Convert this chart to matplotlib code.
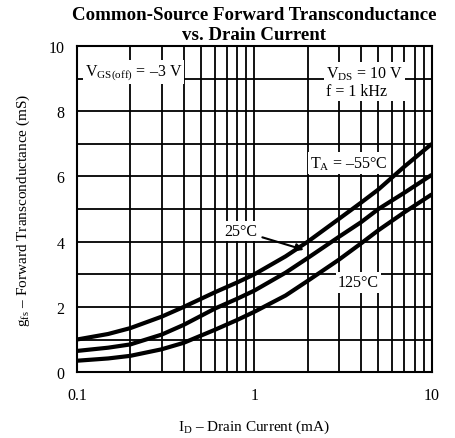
import matplotlib
matplotlib.use('Agg')
import matplotlib.pyplot as plt
import matplotlib.ticker as mticker

plt.rcParams.update({
    'font.family': 'Liberation Serif',
    'font.size': 11,
    'mathtext.fontset': 'custom',
    'mathtext.rm': 'Liberation Serif',
})

# ── Dados ─────────────────────────────────────────────────────────────────────
id_ma = [0.1, 0.15, 0.2, 0.3, 0.4, 0.6, 0.8, 1, 1.5, 2, 3, 4, 5, 7, 10]
gfs_m55 = [1.0, 1.17, 1.35, 1.7, 2.0, 2.45, 2.75, 3.0, 3.55, 4.0, 4.7, 5.2, 5.6, 6.3, 7.0]
gfs_25 = [0.65, 0.75, 0.85, 1.15, 1.45, 1.95, 2.25, 2.5, 3.05, 3.5, 4.15, 4.6, 5.0, 5.5, 6.05]
gfs_125 = [0.35, 0.42, 0.5, 0.7, 0.9, 1.3, 1.6, 1.85, 2.35, 2.8, 3.45, 3.95, 4.35, 4.9, 5.45]

fig = plt.figure(figsize=(4.55, 4.39), dpi=100)
ax = fig.add_axes([0.169, 0.150, 0.780, 0.743])

for vals in (gfs_m55, gfs_25, gfs_125):
    ax.plot(id_ma, vals, color='black', linewidth=3.0, solid_capstyle='butt', zorder=3)

ax.set_xscale('log')
ax.set_xlim(0.1, 10)
ax.set_ylim(0, 10)
ax.set_xticks([0.1, 1, 10])
ax.set_xticklabels(['0.1', '1', '10'])
ax.xaxis.set_minor_locator(mticker.LogLocator(base=10, subs=range(2, 10)))
ax.xaxis.set_minor_formatter(mticker.NullFormatter())
ax.set_yticks([0, 2, 4, 6, 8, 10])
ax.yaxis.set_minor_locator(mticker.MultipleLocator(1))
ax.tick_params(which='both', length=0, labelsize=11.5)
ax.tick_params(axis='x', pad=11)
ax.tick_params(axis='y', pad=9)
ax.grid(True, which='both', color='black', linewidth=1.3)
for s in ax.spines.values():
    s.set_linewidth(1.5)

ax.set_title('Common-Source Forward Transconductance\nvs. Drain Current',
             fontweight='bold', fontsize=13.6, pad=5, linespacing=1.2)
ax.set_xlabel(r'I$_\mathrm{D}$ – Drain Current (mA)', fontsize=11, labelpad=10)
ax.set_ylabel(r'g$_\mathrm{fs}$ – Forward Transconductance (mS)', fontsize=11, labelpad=12)

box = dict(facecolor='white', edgecolor='none', pad=1.5)
ax.text(0.111, 9.2, r'V$_\mathrm{GS(off)}$ = –3 V', fontsize=11.5, va='center', ha='left', bbox=box, zorder=4)
ax.text(2.55, 8.9, 'V$_\\mathrm{DS}$ = 10 V\nf = 1 kHz', fontsize=11.5, va='center', ha='left',
        bbox=box, zorder=4, linespacing=1.1)
ax.text(2.05, 6.4, r'T$_\mathrm{A}$ = –55°C', fontsize=11.5, va='center', ha='left', bbox=box, zorder=4)
ax.text(2.95, 2.75, '125°C', fontsize=11.5, va='center', ha='left', bbox=box, zorder=4)
ax.annotate('25°C', xy=(1.9, 3.75), xytext=(0.68, 4.33), fontsize=11.5, va='center', ha='left',
            bbox=box, zorder=4,
            arrowprops=dict(arrowstyle='-|>', color='black', lw=1.5, shrinkA=2, shrinkB=0))

fig.savefig('out.png', dpi=100)
